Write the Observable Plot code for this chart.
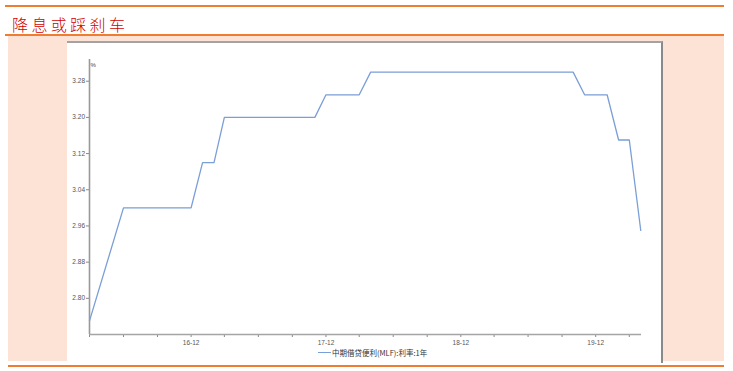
<!DOCTYPE html>
<html>
<head>
<meta charset="utf-8">
<script src="https://cdn.jsdelivr.net/npm/d3@7"></script>
<script src="https://cdn.jsdelivr.net/npm/@observablehq/plot@0.6"></script>
<style>
  html, body { margin: 0; padding: 0; background: #fff; }
  #wrap { position: relative; width: 733px; height: 371px; overflow: hidden; background: #fff; }
  .hline { position: absolute; height: 2px; background: #ee7d32; }
  #peach { position: absolute; left: 8px; top: 36px; width: 716px; height: 325px; background: #fde3d6; }
  #panel { position: absolute; left: 67px; top: 41px; width: 594px; height: 320px; background: #fff;
           border-top: 2px solid #a3a3a3; border-right: 2px solid #8a8a8a; }
  #title { position: absolute; left: 12px; top: 12px; font-family: "Noto Sans CJK SC", sans-serif;
           font-size: 16px; letter-spacing: 3.4px; color: #d00000; font-weight: 300; }
  #chart { position: absolute; left: 0; top: 0; }
  #legend { position: absolute; left: 318px; top: 347px; font-family: "Noto Sans CJK SC", sans-serif;
            font-size: 7.5px; color: #333; display: flex; align-items: center; }
  #legend .sw { width: 13px; height: 1.3px; background: #7a9fd6; margin-right: 1px; }
</style>
</head>
<body>
<div id="wrap">
  <div class="hline" style="left:5px; top:5px; width:719px;"></div>
  <div id="title">降息或踩刹车</div>
  <div class="hline" style="left:5px; top:34px; width:719px;"></div>
  <div id="peach"></div>
  <div id="panel"></div>
  <div class="hline" style="left:8px; top:365px; width:716px;"></div>
  <div id="chart"></div>
  <div id="legend"><span class="sw"></span><span>中期借贷便利(MLF):利率:1年</span></div>
</div>
<script>
// Data: MLF 1-year rate (%)
const months = ["2016-03","2016-06","2016-07","2016-08","2016-09","2016-10","2016-11","2016-12",
  "2017-01","2017-02","2017-03","2017-04","2017-05","2017-06","2017-07","2017-08","2017-09","2017-10","2017-11",
  "2017-12","2018-01","2018-02","2018-03",
  "2018-04","2018-05","2018-06","2018-07","2018-08","2018-09","2018-10","2018-11","2018-12",
  "2019-01","2019-02","2019-03","2019-04","2019-05","2019-06","2019-07","2019-08","2019-09","2019-10",
  "2019-11","2019-12","2020-01","2020-02","2020-03","2020-04"];
const rates = [2.75,3.00,3.00,3.00,3.00,3.00,3.00,3.00,
  3.10,3.10,3.20,3.20,3.20,3.20,3.20,3.20,3.20,3.20,3.20,
  3.25,3.25,3.25,3.25,
  3.30,3.30,3.30,3.30,3.30,3.30,3.30,3.30,3.30,
  3.30,3.30,3.30,3.30,3.30,3.30,3.30,3.30,3.30,3.30,
  3.25,3.25,3.25,3.15,3.15,2.95];
const yTicks = [2.80, 2.88, 2.96, 3.04, 3.12, 3.20, 3.28];
const xTickMonths = ["2016-03","2016-06","2016-09","2016-12","2017-03","2017-06","2017-09","2017-12",
  "2018-03","2018-06","2018-09","2018-12","2019-03","2019-06","2019-09","2019-12","2020-03"];
const xDomain = ["2016-03-01", "2020-04-03"];
const yDomain = [2.72, 3.328];
const seriesName = "中期借贷便利(MLF):利率:1年";

const parse = s => new Date(s.length === 7 ? s + "-01T00:00:00Z" : s + "T00:00:00Z");
const data = months.map((m, i) => ({date: parse(m), value: rates[i]}));
const xTicks = xTickMonths.map(parse);
const x0 = parse(xDomain[0]), x1 = parse(xDomain[1]);

const chart = Plot.plot({
  width: 733,
  height: 371,
  marginLeft: 89,
  marginRight: 92,
  marginTop: 59,
  marginBottom: 37,
  style: {background: "transparent", fontFamily: "Liberation Sans, Arial, sans-serif", color: "#444"},
  x: {type: "utc", domain: [x0, x1]},
  y: {domain: yDomain},
  marks: [
    Plot.axisY({ticks: yTicks, tickFormat: d => d.toFixed(2), tickSize: 3, tickPadding: 1.5,
      fontSize: 6.5, stroke: "#888", fill: "#555", label: null}),
    Plot.axisX({ticks: xTicks, tickSize: 3, tickPadding: 3, fontSize: 6.5, stroke: "#888", fill: "#555", label: null,
      tickFormat: d => d.getUTCMonth() === 11 ? String(d.getUTCFullYear()).slice(2) + "-12" : ""}),
    Plot.ruleX([x0], {y1: yDomain[0], y2: yDomain[1], stroke: "#999", strokeWidth: 1.6}),
    Plot.ruleY([yDomain[0]], {x1: x0, x2: x1, stroke: "#a5a5a5", strokeWidth: 1.6}),
    Plot.text(["%"], {frameAnchor: "top-left", dx: 1, dy: 3, fontSize: 6, fill: "#444", textAnchor: "start"}),
    Plot.line(data, {x: "date", y: "value", stroke: "#7a9fd6", strokeWidth: 1.3})
  ]
});
document.getElementById("chart").appendChild(chart);
document.querySelector("#legend span:last-child").textContent = seriesName;
</script>
</body>
</html>
